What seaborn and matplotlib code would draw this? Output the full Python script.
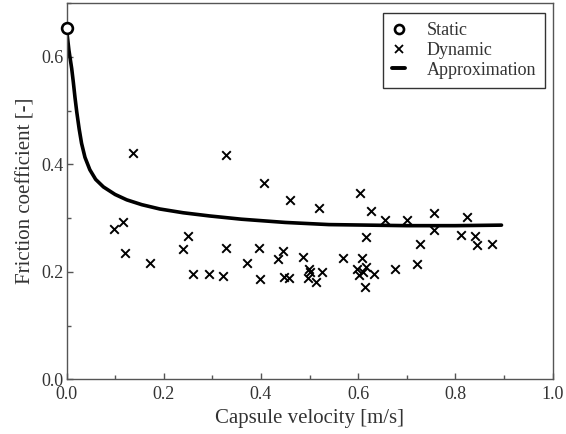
import matplotlib
matplotlib.use("Agg")
import matplotlib.pyplot as plt
import seaborn as sns
import pandas as pd
from matplotlib.ticker import MultipleLocator
from matplotlib.lines import Line2D

# ---- data ----
static_v = [0.0]
static_mu = [0.654]

dyn_v = [0.136, 0.3276, 0.0977, 0.1169, 0.121, 0.1718, 0.2397, 0.250, 0.3276, 0.2597,
         0.2926, 0.3214, 0.4058, 0.4605, 0.519, 0.604, 0.6265, 0.6553, 0.700, 0.6169,
         0.396, 0.3708, 0.4449, 0.435, 0.4872, 0.5683, 0.6074, 0.3988, 0.4475, 0.4572,
         0.499, 0.501, 0.4963, 0.5128, 0.5263, 0.5971, 0.6025, 0.6163, 0.6107, 0.6327,
         0.6136, 0.6753, 0.7556, 0.824, 0.7568, 0.7274, 0.8111, 0.8412, 0.844, 0.8761,
         0.7206]
dyn_mu = [0.4216, 0.418, 0.279, 0.293, 0.2346, 0.217, 0.242, 0.267, 0.244, 0.1955,
          0.1955, 0.192, 0.366, 0.3336, 0.318, 0.347, 0.313, 0.297, 0.297, 0.265,
          0.244, 0.2165, 0.238, 0.224, 0.228, 0.2258, 0.225, 0.186, 0.1905, 0.188,
          0.2048, 0.199, 0.189, 0.181, 0.1998, 0.205, 0.194, 0.2085, 0.199, 0.197,
          0.1725, 0.205, 0.309, 0.3015, 0.278, 0.2525, 0.2686, 0.266, 0.2506, 0.2525,
          0.214]

approx_v = [0.0, 0.002, 0.005, 0.008, 0.0107, 0.014, 0.0175, 0.021, 0.026, 0.031,
            0.038, 0.048, 0.06, 0.076, 0.1, 0.124, 0.155, 0.192, 0.24, 0.295,
            0.36, 0.45, 0.54, 0.62, 0.70, 0.80, 0.895]
approx_mu = [0.654, 0.636, 0.612, 0.594, 0.578, 0.553, 0.524, 0.498, 0.466, 0.439,
             0.413, 0.390, 0.372, 0.358, 0.344, 0.334, 0.325, 0.317, 0.310, 0.304,
             0.298, 0.292, 0.288, 0.287, 0.286, 0.286, 0.287]

x_ticks = [0.0, 0.2, 0.4, 0.6, 0.8, 1.0]
y_ticks = [0.0, 0.2, 0.4, 0.6]

# ---- style ----
sns.set_style("ticks")
plt.rcParams['font.family'] = ['Liberation Serif', 'DejaVu Serif']
plt.rcParams['mathtext.fontset'] = 'stix'

fig = plt.figure(figsize=(5.66, 4.34), dpi=100)
ax = fig.add_axes([0.1175, 0.1256, 0.8587, 0.8675])

df_dyn = pd.DataFrame({"v": dyn_v, "mu": dyn_mu})
df_app = pd.DataFrame({"v": approx_v, "mu": approx_mu})
df_sta = pd.DataFrame({"v": static_v, "mu": static_mu})

sns.lineplot(data=df_app, x="v", y="mu", ax=ax, color="black", linewidth=2.6,
             sort=False, estimator=None, zorder=2)
sns.scatterplot(data=df_dyn, x="v", y="mu", ax=ax, marker="x", color="black",
                s=38, linewidth=1.4, zorder=3)
sns.scatterplot(data=df_sta, x="v", y="mu", ax=ax, marker="o", facecolor="white",
                edgecolor="black", s=60, linewidth=1.9, zorder=4, clip_on=False)

ax.set_xlim(0, 1.0)
ax.set_ylim(0, 0.7)
ax.set_xticks(x_ticks)
ax.set_yticks(y_ticks)
ax.set_xticklabels([f"{t:.1f}" for t in x_ticks])
ax.set_yticklabels([f"{t:.1f}" for t in y_ticks])
ax.xaxis.set_minor_locator(MultipleLocator(0.1))
ax.yaxis.set_minor_locator(MultipleLocator(0.1))

spine_col = "#555555"
for s in ax.spines.values():
    s.set_visible(True)
    s.set_color(spine_col)
    s.set_linewidth(1.0)
ax.tick_params(axis="both", which="major", direction="in", length=4.5, width=1.0,
               color=spine_col, labelsize=13, labelcolor="#333333")
ax.tick_params(axis="x", which="major", pad=5)
ax.tick_params(axis="y", which="major", pad=2)
ax.tick_params(axis="both", which="minor", direction="in", length=3, width=1.0,
               color=spine_col)

ax.set_xlabel("Capsule velocity [m/s]", fontsize=15, color="#333333", labelpad=4)
ax.set_ylabel("Friction coefficient [-]", fontsize=15, color="#333333", labelpad=4)

handles = [
    Line2D([], [], marker="o", linestyle="none", markerfacecolor="white",
           markeredgecolor="black", markeredgewidth=1.9, markersize=6.5),
    Line2D([], [], marker="x", linestyle="none", color="black",
           markeredgewidth=1.3, markersize=6),
    Line2D([], [], color="black", linewidth=2.8),
]
leg = ax.legend(handles, ["Static", "Dynamic", "Approximation"],
                loc="upper right", bbox_to_anchor=(0.9846, 0.9727),
                borderaxespad=0, fontsize=13, frameon=True, fancybox=False,
                handlelength=0.7, handletextpad=1.2, labelspacing=0.15,
                borderpad=0.5)
leg.get_frame().set_edgecolor("black")
leg.get_frame().set_linewidth(1.0)
for t in leg.get_texts():
    t.set_color("#333333")

fig.savefig("out.png", dpi=100)
